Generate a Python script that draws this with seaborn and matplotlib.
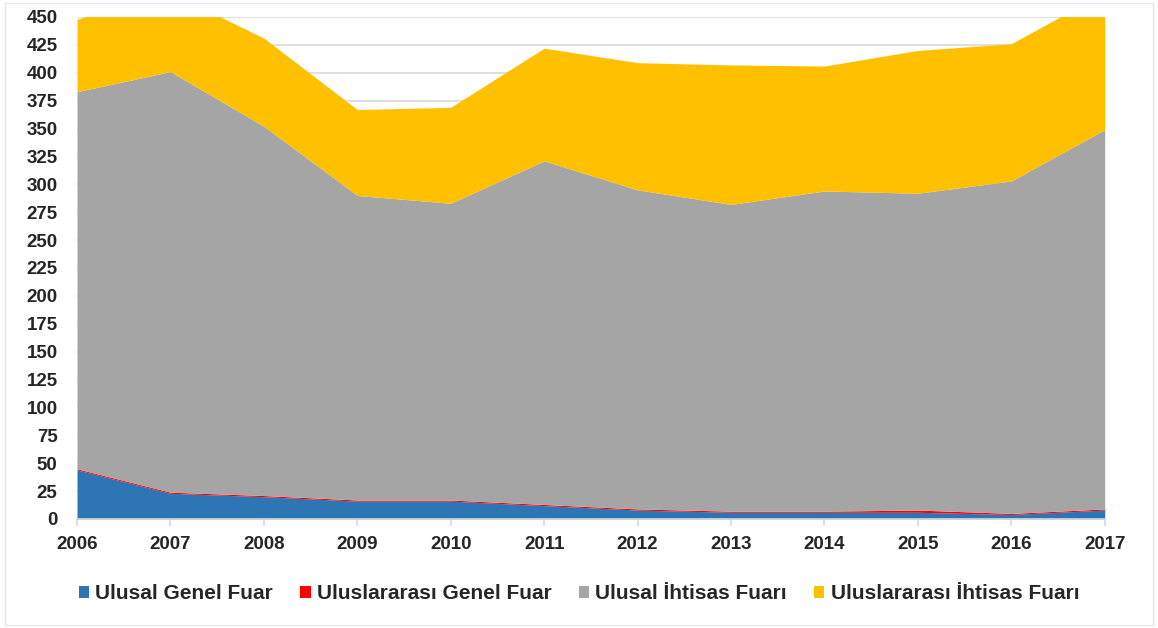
import numpy as np
import pandas as pd
import matplotlib
matplotlib.use('Agg')
import matplotlib.pyplot as plt
from matplotlib.patches import Patch
import seaborn as sns

# Data
years = [2006, 2007, 2008, 2009, 2010, 2011, 2012, 2013, 2014, 2015, 2016, 2017]
ulusal_genel = [44, 23, 20, 16, 16, 12, 8, 6, 6, 6, 4, 8]
uluslararasi_genel = [1, 1, 1, 1, 1, 1, 1, 1, 1, 2, 1, 1]
ulusal_ihtisas = [338, 377, 331, 273, 266, 308, 286, 275, 287, 284, 298, 340]
uluslararasi_ihtisas = [65, 71, 79, 77, 86, 101, 114, 125, 112, 128, 123, 123]

labels = ['Ulusal Genel Fuar', 'Uluslararası Genel Fuar',
          'Ulusal İhtisas Fuarı', 'Uluslararası İhtisas Fuarı']
colors = ['#2e75b6', '#ff0000', '#a5a5a5', '#ffc000']

df = pd.DataFrame({
    'Yil': years,
    labels[0]: ulusal_genel,
    labels[1]: uluslararasi_genel,
    labels[2]: ulusal_ihtisas,
    labels[3]: uluslararasi_ihtisas,
})

sns.set_theme(style='white')
plt.rcParams['font.family'] = ['Liberation Sans', 'DejaVu Sans']

fig = plt.figure(figsize=(11.58, 6.28), dpi=100)
ax = fig.add_axes([0.0665, 0.1736, 0.8875, 0.7994])

ax.stackplot(df['Yil'], [df[c] for c in labels], colors=colors,
             linewidth=0, zorder=2)

ax.set_xlim(2006, 2017)
ax.set_ylim(0, 450)
ax.set_yticks(np.arange(0, 451, 25))
ax.set_xticks(years)
ax.yaxis.grid(True, color='#d9d9d9', linewidth=1.2, zorder=0)
ax.set_axisbelow(True)

sns.despine(ax=ax, left=True, top=True, right=True)
ax.spines['bottom'].set_color('#d9d9d9')
ax.spines['bottom'].set_linewidth(1.2)
ax.spines['bottom'].set_zorder(3)

ax.tick_params(axis='x', length=5, color='#d9d9d9', width=1.2, pad=7,
               labelsize=13.5, labelcolor='#262626', bottom=True)
ax.tick_params(axis='y', length=0, pad=14, labelsize=13.5, labelcolor='#262626')
for lab in ax.get_xticklabels() + ax.get_yticklabels():
    lab.set_fontweight('bold')

handles = [Patch(facecolor=c, edgecolor='none') for c in colors]
fig.legend(handles, labels, loc='center', bbox_to_anchor=(0.5, 0.055),
           ncol=4, frameon=False, handlelength=0.5, handleheight=0.5,
           handletextpad=0.3, columnspacing=1.3,
           prop={'weight': 'bold', 'size': 15})
for t in fig.legends[0].get_texts():
    t.set_color('#262626')

# light frame around the whole chart area
fig.patches.append(plt.Rectangle((0.004, 0.004), 0.992, 0.992,
                                 transform=fig.transFigure, fill=False,
                                 edgecolor='#e6e6e6', linewidth=1))

fig.savefig('out.png', dpi=100)
